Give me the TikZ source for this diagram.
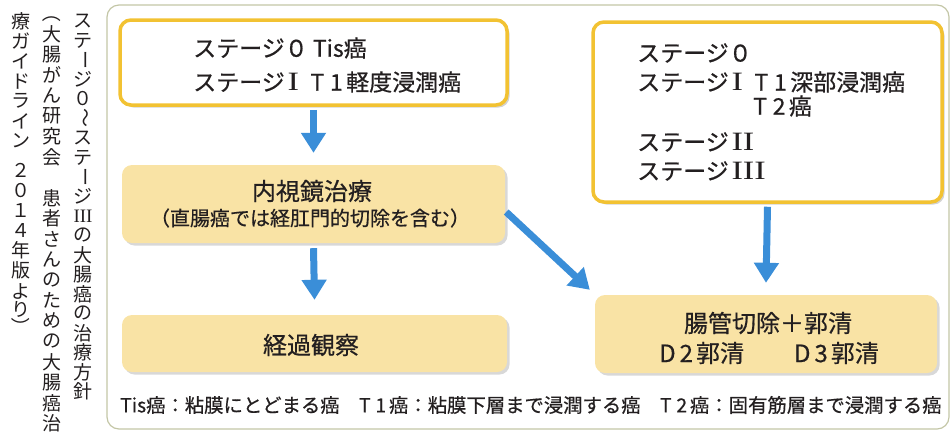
\documentclass[tikz,border=0pt]{standalone}
\usepackage{fontspec}
\usepackage{graphicx}
\setmainfont{Noto Sans CJK JP}
\newfontfamily\medfont{Noto Sans CJK JP}[FakeBold=0.6]
\newfontfamily\serifrn{Liberation Serif}
\usetikzlibrary{arrows.meta,shadows}

\definecolor{gold}{HTML}{F2C232}
\definecolor{tanfill}{HTML}{F9E3A5}
\definecolor{arrblue}{HTML}{3A8ED8}
\definecolor{framec}{HTML}{C3C6A6}
\definecolor{txt}{HTML}{231F20}

\newcommand\RN[1]{\kern0.12em{\serifrn\fontsize{1.15em}{1.15em}\selectfont\scalebox{1.3}[1]{#1}}\kern0.5em}
\newcommand\Tn[1]{T\kern0.25em#1\kern0.15em}
\newcommand\vIII{{\serifrn III}}
\newcommand\vrot[1]{\rotatebox[origin=c]{-90}{#1}}
\newcommand\vbar{\vrot{ー}}
\newcommand\vwave{\vrot{～}}
\newcommand\vlp{\vrot{（}}
\newcommand\vrp{\vrot{）}}

\ExplSyntaxOn
\dim_new:N \l_vt_pitch_dim
\NewDocumentCommand \vtext { m m }
 {
  \dim_set:Nn \l_vt_pitch_dim {#1}
  \vbox:n
   {
    \offinterlineskip
    \tl_map_inline:nn {#2}
     {
      \vbox_to_ht:nn {\l_vt_pitch_dim}
       {
        \vss
        \hbox_to_wd:nn {1.1em} { \hss ##1 \hss }
        \vss
       }
     }
   }
 }
\ExplSyntaxOff

\begin{document}
\begin{tikzpicture}[x=1pt,y=-1pt,
  frame/.style={draw=framec, line width=1.2pt, rounded corners=12pt},
  stagebox/.style={draw=gold, line width=3.5pt, fill=white, rounded corners=11pt,
    drop shadow={shadow xshift=2.5pt,shadow yshift=-2.5pt,fill=black!35}, inner sep=0pt},
  treatbox/.style={fill=tanfill, rounded corners=10pt,
    drop shadow={shadow xshift=2.5pt,shadow yshift=-2.5pt,fill=black!30}, inner sep=0pt},
  flow/.style={draw=arrblue, line width=7pt, -{Triangle[width=24pt,length=20pt]}},
  lbl/.style={text=txt, inner sep=0pt, font=\medfont\fontsize{23}{26}\selectfont},
  head/.style={text=txt, inner sep=0pt, font=\medfont\fontsize{24}{28}\selectfont},
  vcol/.style={text=txt, inner sep=0pt, anchor=north, font=\fontsize{19}{20}\selectfont}
]
\useasboundingbox (0,0) rectangle (952,432);

% outer frame
\draw[frame] (107,5) rectangle (949,429);

% vertical caption
\node[vcol] (cap1) at (83,11) {\vtext{19.5pt}{ステ\vbar ジ０\vwave ステ\vbar ジ\vIII の大腸癌の治療方針}};
\node[vcol] (cap2) at (52,3) {\vtext{20.5pt}{\vlp 大腸がん研究会　患者さんのための大腸癌治}};
\node[vcol] (cap3) at (21,11) {\vbox{\offinterlineskip
   \vtext{20pt}{療ガイドライン}\vskip9pt
   \vtext{20pt}{２０１４年版}\vskip2pt
   \vtext{18pt}{より\vrp}}};

% boxes
\node[stagebox, minimum width=387pt, minimum height=85pt] (sA) at (313.5,62.5) {};
\node[treatbox, minimum width=383pt, minimum height=78pt] (tB) at (313.5,204) {};
\node[treatbox, minimum width=385pt, minimum height=57pt] (tC) at (314.5,343.5) {};
\node[stagebox, minimum width=349pt, minimum height=180pt] (sD) at (767.5,112) {};
\node[treatbox, minimum width=342pt, minimum height=78pt] (tE) at (766,334) {};

% texts in box A
\node[lbl, anchor=west] (a1) at (193,48) {ステージ０ Tis癌};
\node[lbl, anchor=west] (a2) at (193,82) {ステージ\RN{I}\Tn{1}軽度浸潤癌};

% texts in box D
\node[lbl, anchor=west] (d1) at (637,53) {ステージ０};
\node[lbl, anchor=west] (d2) at (637,82) {ステージ\RN{I}\Tn{1}深部浸潤癌};
\node[lbl, anchor=west] (d3) at (753,106) {\Tn{2}癌};
\node[lbl, anchor=west] (d4) at (637,142) {ステージ\RN{II}};
\node[lbl, anchor=west] (d5) at (637,171) {ステージ\RN{III}};

% treatment texts
\node[head] (b1) at (312,191) {内視鏡治療};
\node[text=txt, inner sep=0pt, font=\medfont\fontsize{20}{24}\selectfont] (b2) at (310,218) {（直腸癌では経肛門的切除を含む）};
\node[head] (c1) at (311,345) {経過観察};
\node[head] (e1) at (768,323) {腸管切除＋郭清};
\node[head] (e2) at (769,353) {D\kern4pt2\kern3pt郭清\hspace{50pt}D\kern4pt3\kern3pt郭清};

% footer
\node[text=txt, inner sep=0pt, anchor=west, font=\medfont\fontsize{19.35}{22}\selectfont] (foot) at (120,405)
  {Tis癌：粘膜にとどまる癌　\Tn{1}癌：粘膜下層まで浸潤する癌　\Tn{2}癌：固有筋層まで浸潤する癌};

% arrows
\draw[flow] ([yshift=-3pt]sA.south) -- ([yshift=12pt]tB.north);
\draw[flow] ([yshift=-5pt]tB.south) -- ([yshift=15pt]tC.north);
\draw[flow] ([yshift=-3pt]sD.south) -- ([yshift=12pt]tE.north);
\draw[flow] ([xshift=1pt,yshift=-8pt]tB.east) -- ([xshift=-5pt,yshift=5pt]tE.north west);
\end{tikzpicture}
\end{document}
